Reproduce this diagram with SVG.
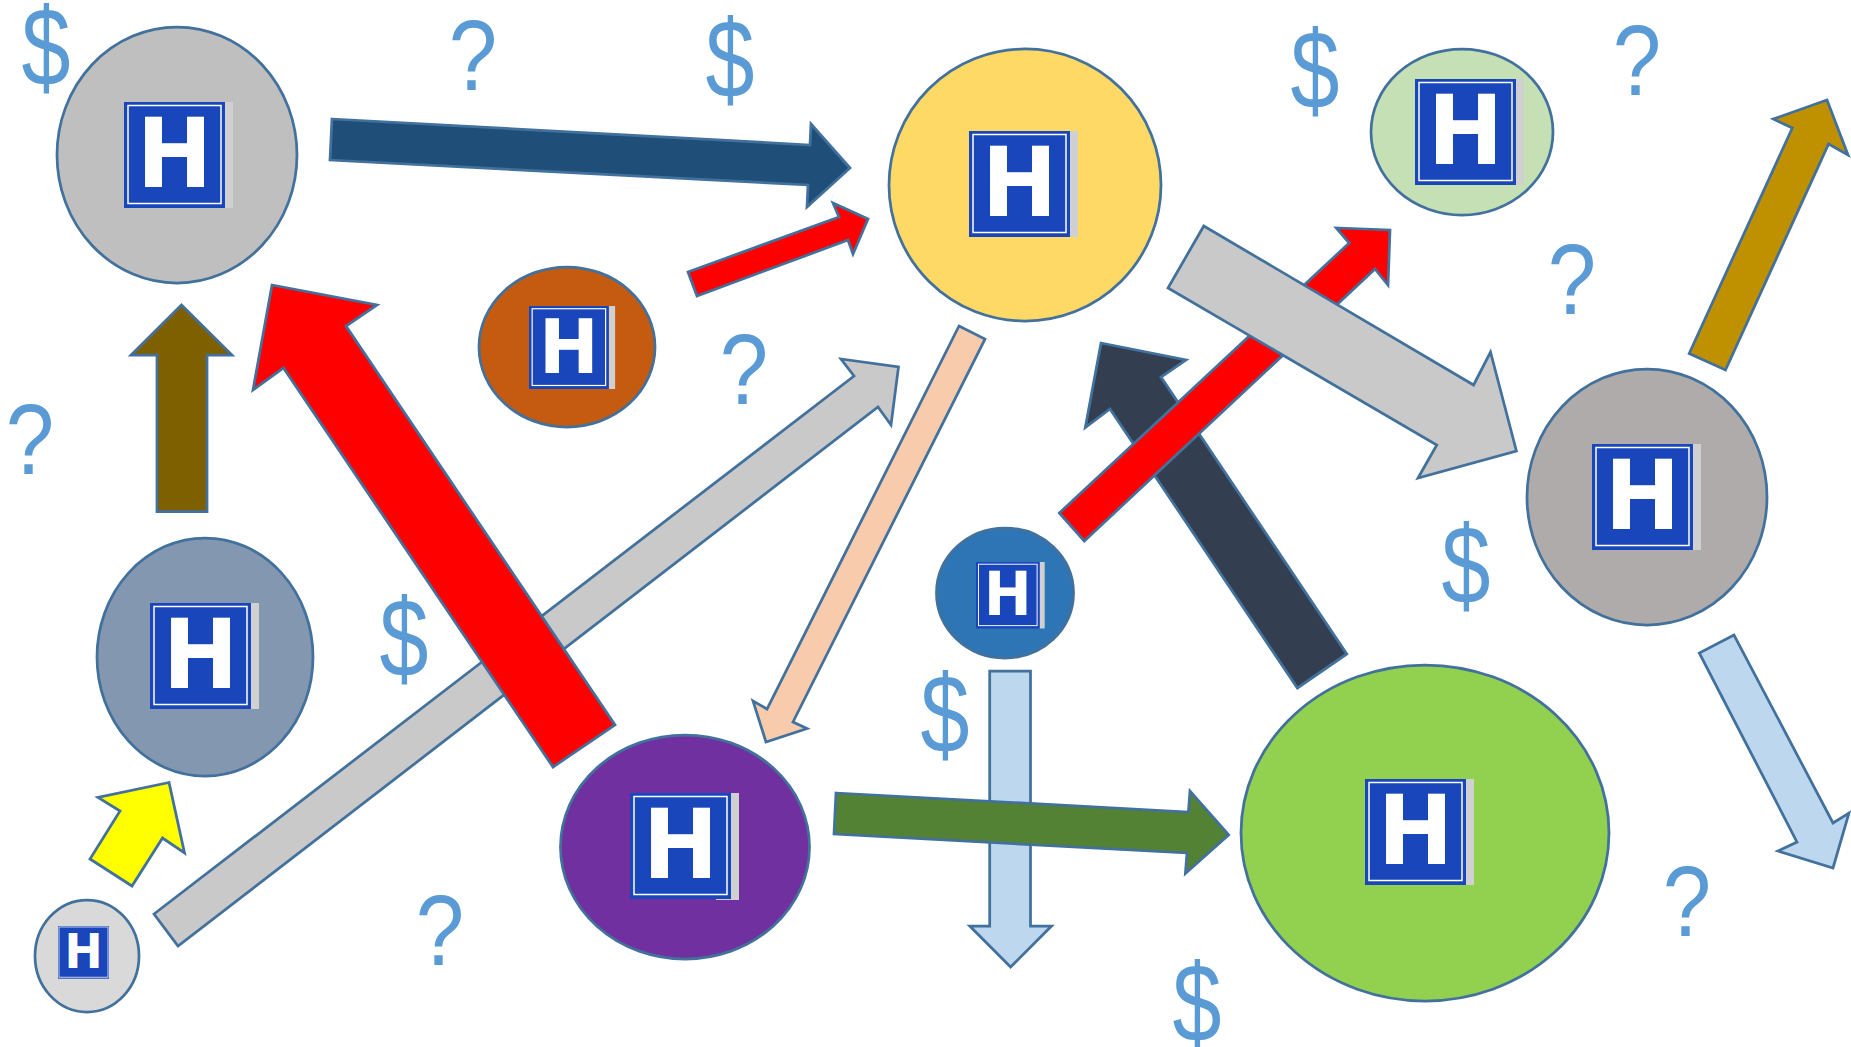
<svg xmlns="http://www.w3.org/2000/svg" width="1851" height="1047" viewBox="0 0 1851 1047">
<style>
.n{stroke:#41719c;stroke-width:2.75}
.a{stroke:#41719c;stroke-width:2.75;stroke-miterlimit:10}
.h{font-family:"DejaVu Sans",Verdana,sans-serif;font-weight:700;font-size:96px;fill:#fff;text-anchor:middle}
.m{font-family:"Liberation Sans",Arial,sans-serif;font-size:100px;fill:#5b9bd5;text-anchor:middle}
</style>
<defs>
<g id="sign">
<rect x="101" y="0" width="8" height="106" fill="#d0d0d0"/>
<rect x="0" y="0" width="101" height="106" fill="#1946ba"/>
<rect x="4" y="3.5" width="93" height="98" fill="none" stroke="#fff" stroke-width="1.5"/>
</g>
<g id="signplain">
<rect x="0" y="0" width="101" height="106" fill="#1946ba"/>
<rect x="2" y="2" width="97" height="101" fill="none" stroke="#fff" stroke-width="1.5"/>
</g>
</defs>
<rect width="1851" height="1047" fill="#fff"/>
<g id="connectors">
<polygon class="a" fill="#1f4e79" points="332,119 810,145 811,124 850,168 807,207 808,185 330,160"/>
<polygon class="a" fill="#ff0000" points="688,272 839,217 833,203 868,219 853,254 848,240 697,296"/>
<polygon class="a" fill="#7f6000" points="181.5,305 232,355 207,355 207,511.5 157,511.5 157,355 131,355"/>
<polygon class="a" fill="#c9c9c9" points="154,914 854,376 841,359 898.5,367 891,425 878,407 178,946"/>
<polygon class="a" fill="#ff0000" points="272,285 377,305 346,326 615,725 553,767 283.5,368 253,390"/>
<polygon class="a" fill="#f8cbad" points="959,326 985,339 793,722 807,728.5 766,742 753,701 767,709"/>
<polygon class="a" fill="#333f50" points="1346.7,654 1297.4,688 1110,409 1085.3,427.5 1101,343 1186,360 1161,377"/>
<polygon class="a" fill="#ff0000" points="1059.4,513 1349.2,243 1336.3,228 1390,230 1388,285 1375,269 1084.3,541"/>
<polygon class="a" fill="#c9c9c9" points="1203.8,226 1473.6,385 1490.5,352 1516.4,451 1418,478 1436.8,445 1168,288"/>
<polygon class="a" fill="#bf9000" points="1689.2,353.5 1792.3,128 1773.3,119 1827,100 1848,155 1828.6,144 1725.5,370"/>
<polygon class="a" fill="#bdd7ee" points="989.7,671 1030.5,671 1030.5,926 1051.5,926 1010.6,967 969.8,926 989.7,926"/>
<polygon class="a" fill="#548235" points="836,793 1188.4,812 1190,791 1228.7,835 1185.4,873.5 1187,853 834,834"/>
<polygon class="a" fill="#bdd7ee" points="1734,635 1699.3,653 1797,842 1778,851 1833,868 1849,813 1833,823"/>
<polygon class="a" fill="#ffff00" points="169,782.5 98,797.5 120,811 90,859 132,886 162.5,838 184.5,853"/>
</g>
<g id="node-gray"><ellipse class="n" fill="#bfbfbf" cx="177" cy="155" rx="120" ry="128"/><g transform="translate(124 102)"><use href="#sign"/><text class="h" transform="translate(50.5 85) scale(.94 1)">H</text></g></g>
<g id="node-yellow"><ellipse class="n" fill="#ffd966" cx="1025" cy="185" rx="136" ry="136"/><g transform="translate(969 131)"><use href="#sign"/><text class="h" transform="translate(50.5 85) scale(.94 1)">H</text></g></g>
<g id="node-brown"><ellipse class="n" fill="#c55a11" cx="567" cy="347" rx="88" ry="80"/><g transform="translate(529 306) scale(.79 .783)"><use href="#sign"/><text class="h" transform="translate(50.5 85) scale(.94 1)">H</text></g></g>
<g id="node-lightgreen"><ellipse class="n" fill="#c5e0b4" cx="1462" cy="132" rx="91" ry="83"/><g transform="translate(1415 79)"><use href="#sign"/><text class="h" transform="translate(50.5 85) scale(.94 1)">H</text></g></g>
<g id="node-taupe"><ellipse class="n" fill="#afabab" cx="1647" cy="497" rx="120" ry="128"/><g transform="translate(1592 444)"><use href="#sign"/><text class="h" transform="translate(50.5 85) scale(.94 1)">H</text></g></g>
<g id="node-bluegray"><ellipse class="n" fill="#8497b0" cx="205" cy="657" rx="108" ry="119"/><g transform="translate(150 603)"><use href="#sign"/><text class="h" transform="translate(50.5 85) scale(.94 1)">H</text></g></g>
<g id="node-blue"><ellipse class="n" fill="#2e75b6" cx="1005" cy="593" rx="68.5" ry="65"/><g transform="translate(976 562) scale(.63 .627)"><use href="#sign"/><text class="h" transform="translate(50.5 85) scale(.94 1)">H</text></g></g>
<g id="node-purple"><ellipse class="n" fill="#7030a0" cx="685" cy="847" rx="124.5" ry="112"/><rect x="716" y="850" width="23" height="50" fill="#d0d0d0"/><g transform="translate(630 793)"><use href="#sign"/><text class="h" transform="translate(50.5 85) scale(.94 1)">H</text></g></g>
<g id="node-green"><ellipse class="n" fill="#92d050" cx="1425" cy="833" rx="184" ry="168"/><g transform="translate(1365 779)"><use href="#sign"/><text class="h" transform="translate(50.5 85) scale(.94 1)">H</text></g></g>
<g id="node-lightgray"><ellipse class="n" fill="#d9d9d9" cx="87" cy="956" rx="52" ry="56"/><g transform="translate(58 926) scale(.505 .497)"><use href="#signplain"/><text class="h" transform="translate(50.5 85) scale(.94 1)">H</text></g></g>
<g id="marks">
<text class="m" transform="translate(473 90) scale(.87 1)">?</text>
<text class="m" transform="translate(744 404) scale(.87 1)">?</text>
<text class="m" transform="translate(30 474) scale(.87 1)">?</text>
<text class="m" transform="translate(1637 95) scale(.87 1)">?</text>
<text class="m" transform="translate(1572 314) scale(.87 1)">?</text>
<text class="m" transform="translate(440 965) scale(.87 1)">?</text>
<text class="m" transform="translate(1687 936) scale(.87 1)">?</text>
<text class="m" transform="translate(46 86) scale(.88 1.105)">$</text>
<text class="m" transform="translate(730 98) scale(.88 1.105)">$</text>
<text class="m" transform="translate(1315 109) scale(.88 1.105)">$</text>
<text class="m" transform="translate(404 677) scale(.88 1.105)">$</text>
<text class="m" transform="translate(945 753) scale(.88 1.105)">$</text>
<text class="m" transform="translate(1466 604) scale(.88 1.105)">$</text>
<text class="m" transform="translate(1197 1042) scale(.88 1.105)">$</text>
</g>
</svg>
